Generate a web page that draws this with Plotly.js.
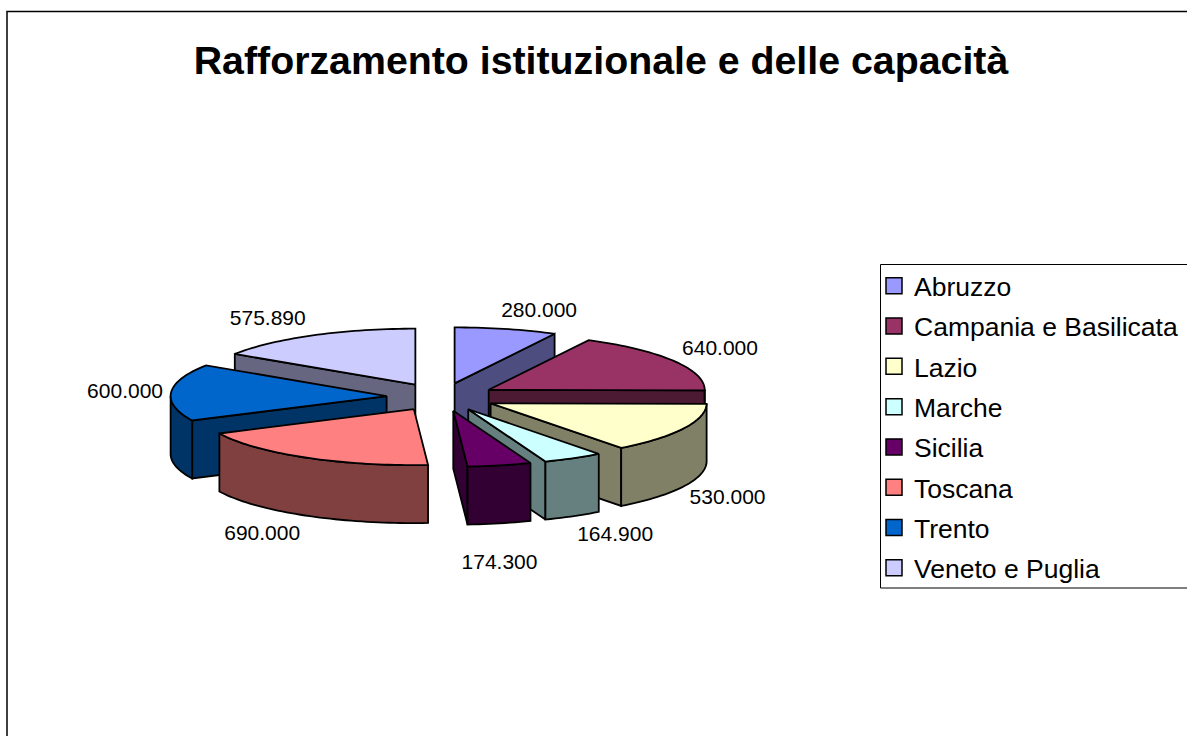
<!DOCTYPE html>
<html>
<head>
<meta charset="utf-8">
<script src="https://cdn.plot.ly/plotly-3.0.1.min.js"></script>
<style>html,body{margin:0;padding:0;background:#fff;overflow:hidden}</style>
</head>
<body>
<div id="chart" style="width:1187px;height:736px"></div>
<script>
var categories = ["Abruzzo","Campania e Basilicata","Lazio","Marche","Sicilia","Toscana","Trento","Veneto e Puglia"];
var values = [280000,640000,530000,164900,174300,690000,600000,575890];
var valueLabels = ["280.000","640.000","530.000","164.900","174.300","690.000","600.000","575.890"];
var topColors = ["#9999FF","#993366","#FFFFCC","#CCFFFF","#660066","#FF8080","#0066CC","#CCCCFF"];
var sideColors = ["#4D4D80","#4D1A33","#808066","#668080","#330033","#804040","#003366","#666680"];
var labelDx = [33,46,44,42,0,-43,-46,-45];
var labelDy = [-17,-11,70,78,98,77,0,-16];

var FONT = '"Liberation Sans", Arial, sans-serif';
var cx = 441.5, cy = 397, ra = 216, rb = 56, ea = 55, eb = 14, depth = 58;
var total = values.reduce(function(s,v){return s+v;},0);

function rad(d){return d*Math.PI/180;}
function pt(ox,oy,th,dz){return [ox+ra*Math.sin(rad(th)), oy-rb*Math.cos(rad(th))+(dz||0)];}
function poly(points,fill){
  var pts = points.concat([points[0]]);
  return {type:'scatter',mode:'lines',x:pts.map(function(p){return p[0];}),y:pts.map(function(p){return p[1];}),
    fill:'toself',fillcolor:fill,line:{color:'#000',width:1.8,simplify:false},hoverinfo:'skip',showlegend:false};
}
function arc(ox,oy,a,b,dz){
  var out=[], n=Math.max(2,Math.ceil((b-a)/1.5));
  for(var i=0;i<=n;i++){out.push(pt(ox,oy,a+(b-a)*i/n,dz));}
  return out;
}

var slices=[], acc=0;
values.forEach(function(v,i){
  var s=acc/total*360, e=(acc+v)/total*360; acc+=v;
  var m=(s+e)/2;
  slices.push({i:i,s:s,e:e,m:m,ox:cx+ea*Math.sin(rad(m)),oy:cy-eb*Math.cos(rad(m))});
});

var traces=[];
slices.slice().sort(function(p,q){return p.oy-q.oy;}).forEach(function(k){
  var side=sideColors[k.i], top=topColors[k.i], O=[k.ox,k.oy], Od=[k.ox,k.oy+depth];
  function radial(th){return poly([O,pt(k.ox,k.oy,th),pt(k.ox,k.oy,th,depth),Od],side);}
  if(Math.sin(rad(k.s))<0) traces.push(radial(k.s));
  if(Math.sin(rad(k.e))>0) traces.push(radial(k.e));
  var a=Math.max(k.s,90), b=Math.min(k.e,270);
  if(b>a) traces.push(poly(arc(k.ox,k.oy,a,b,0).concat(arc(k.ox,k.oy,a,b,depth).reverse()),side));
  traces.push(poly([O].concat(arc(k.ox,k.oy,k.s,k.e,0)),top));
});

traces.push({type:'scatter',mode:'text',
  x:slices.map(function(k){return k.ox+ra*Math.sin(rad(k.m))+labelDx[k.i];}),
  y:slices.map(function(k){return k.oy-rb*Math.cos(rad(k.m))+labelDy[k.i];}),
  text:valueLabels,textposition:'middle center',textfont:{family:FONT,size:21,color:'#000'},
  hoverinfo:'skip',showlegend:false,cliponaxis:false});

categories.forEach(function(c,i){
  traces.push({type:'scatter',mode:'markers',x:[null],y:[null],name:c,legendgroup:c,
    marker:{symbol:'square',size:16,color:topColors[i],line:{color:'#000',width:1.5}},hoverinfo:'skip'});
});

var layout={
  width:1187,height:736,margin:{l:0,r:0,t:0,b:0,autoexpand:false},
  paper_bgcolor:'#fff',plot_bgcolor:'#fff',
  title:{text:'<b>Rafforzamento istituzionale e delle capacità</b>',x:601/1187,xanchor:'center',xref:'paper',
    y:1-60/736,yanchor:'middle',yref:'paper',font:{family:FONT,size:39.3,color:'#000'}},
  xaxis:{range:[0,1187],visible:false,fixedrange:true},
  yaxis:{range:[736,0],visible:false,fixedrange:true},
  legend:{x:874/1187,xanchor:'left',y:1-262/736,yanchor:'top',traceorder:'grouped',
    font:{family:FONT,size:26.5,color:'#000'},tracegroupgap:2.85,bgcolor:'rgba(0,0,0,0)',itemclick:false,itemdoubleclick:false},
  showlegend:true,
  shapes:[
    {type:'rect',xref:'x',yref:'y',x0:7,y0:11.5,x1:1300,y1:900,line:{color:'#000',width:1.5},fillcolor:'rgba(0,0,0,0)',layer:'below'},
    {type:'rect',xref:'x',yref:'y',x0:880.5,y0:264.5,x1:1300,y1:588,line:{color:'#000',width:1},fillcolor:'#fff',layer:'below'}
  ]
};
Plotly.newPlot('chart',traces,layout,{displayModeBar:false,staticPlot:false,responsive:false});
</script>
</body>
</html>
